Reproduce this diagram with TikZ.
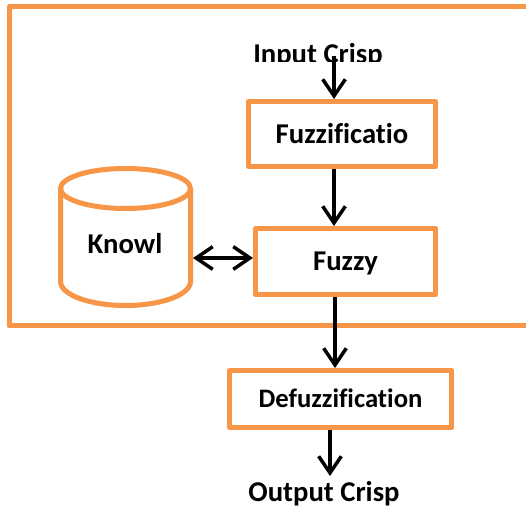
\documentclass[tikz,border=0pt]{standalone}
\usepackage{fontspec}
\setmainfont{Carlito}[Ligatures=CommonOff]
\usetikzlibrary{arrows.meta}
\definecolor{boxorange}{HTML}{F79646}
\tikzset{
  orangeline/.style={draw=boxorange, line width=3.75pt, line join=round},
  stage/.style={orangeline, rectangle, fill=white, inner sep=0pt,
    font=\bfseries\fontsize{21.5pt}{24pt}\selectfont, text height=13.9pt, text depth=0pt},
  label/.style={inner sep=0pt, font=\bfseries\fontsize{21.5pt}{24pt}\selectfont},
  barb/.tip={Straight Barb[length=12.5pt,width=17pt,line width=2.6pt]},
  flow/.style={draw=black, line width=2.6pt, -{barb}},
  twoway/.style={draw=black, line width=2.6pt, {barb}-{barb}}
}
\begin{document}
\begin{tikzpicture}[x=0.75pt, y=-0.75pt]
  \clip (0,0) rectangle (526,510);
  \fill[white] (0,0) rectangle (526,510);

  % enclosing frame of the inference system (runs past the right edge)
  \draw[orangeline] (9,7) rectangle (560,326);

  % knowledge base cylinder (y axis points down, so the front arc runs 180 -> 0)
  \draw[orangeline] (60.5,188.5) -- (60.5,281.5)
    arc[start angle=180, end angle=0, x radius=65, y radius=24]
    -- (190.5,188.5);
  \draw[orangeline] (125.5,188.5) ellipse[x radius=65, y radius=20];
  \node[label, anchor=base] (knowl) at (125,254) {Knowl};
  \coordinate (kbright) at (193,258);

  % processing stages
  \node[stage, minimum width=187*0.75pt, minimum height=65*0.75pt] (fuzzif) at (342,134) {Fuzzificatio};
  \node[stage, minimum width=180*0.75pt, minimum height=66*0.75pt] (fuzzy) at (345.5,261.5) {Fuzzy};
  \node[stage, minimum width=222*0.75pt, minimum height=57*0.75pt,
        font=\bfseries\fontsize{20pt}{24pt}\selectfont, text height=12.9pt] (defuzz) at (340.5,399) {Defuzzification};

  % input and output labels
  \begin{scope}
    \clip (200,20) rectangle (450,62);
    \node[label, anchor=base] (input) at (318,64) {Input Crisp};
  \end{scope}
  \node[label, anchor=base] (output) at (324,502) {Output Crisp};

  % connectors
  \coordinate (axA) at (334,0);
  \coordinate (axB) at (335,0);
  \coordinate (axC) at (330,0);
  \coordinate (inTop) at (334,56);
  \coordinate (outEnd) at (330,476);
  \draw[flow] (inTop) -- (fuzzif.north -| axA);
  \draw[flow] (fuzzif.south -| axA) -- (fuzzy.north -| axA);
  \draw[flow] (fuzzy.south -| axB) -- (defuzz.north -| axB);
  \draw[flow] (defuzz.south -| axC) -- (outEnd);
  \draw[twoway] (kbright) -- (fuzzy.west |- kbright);
\end{tikzpicture}
\end{document}
